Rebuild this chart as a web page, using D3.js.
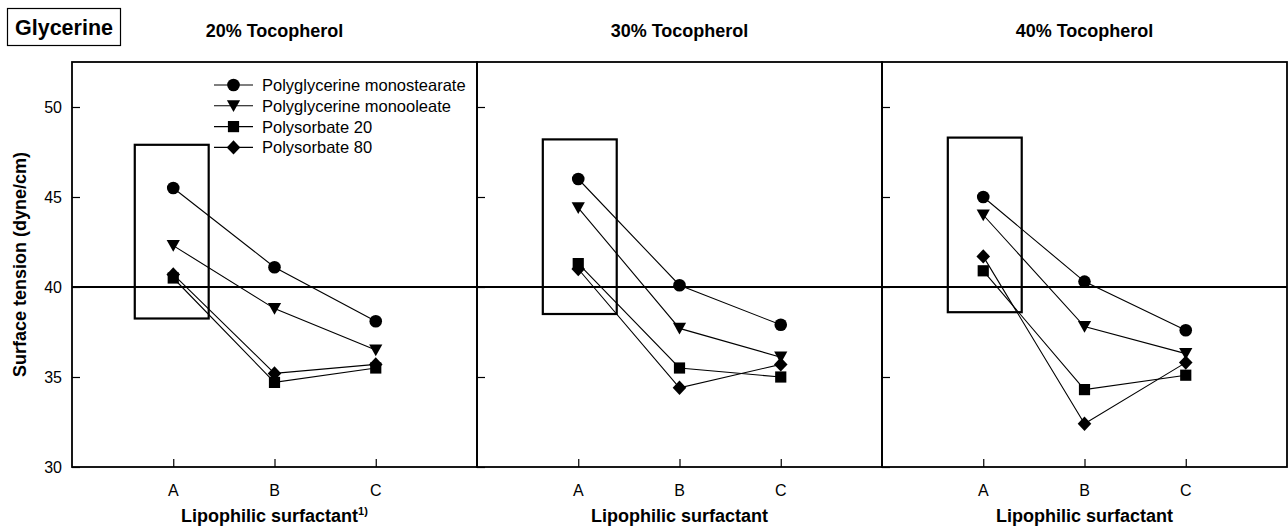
<!DOCTYPE html>
<html>
<head>
<meta charset="utf-8">
<script src="https://cdn.jsdelivr.net/npm/d3@7"></script>
<style>
  body { margin: 0; background: #fff; }
  svg { font-family: Arial, "Liberation Sans", sans-serif; }
</style>
</head>
<body>
<div id="chart"></div>
<script>
// categories on the x axis and panel titles
const categories = ["A", "B", "C"];
const panelTitles = ["20% Tocopherol", "30% Tocopherol", "40% Tocopherol"];
const seriesNames = ["Polyglycerine monostearate", "Polyglycerine monooleate", "Polysorbate 20", "Polysorbate 80"];
const seriesSymbols = ["circle", "triangle", "square", "diamond"];
const yTicks = [30, 35, 40, 45, 50];

// surface tension values, one array per panel, rows = series, cols = A,B,C
const panel20 = [
  [45.5, 41.1, 38.1],
  [42.3, 38.8, 36.5],
  [40.5, 34.7, 35.5],
  [40.7, 35.2, 35.7]
];
const panel30 = [
  [46.0, 40.1, 37.9],
  [44.4, 37.7, 36.1],
  [41.3, 35.5, 35.0],
  [41.0, 34.4, 35.7]
];
const panel40 = [
  [45.0, 40.3, 37.6],
  [44.0, 37.8, 36.3],
  [40.9, 34.3, 35.1],
  [41.7, 32.4, 35.8]
];
const panels = [panel20, panel30, panel40];

// highlight boxes around category A (x in category units, y in dyne/cm)
const boxX0 = [0.62, 0.65, 0.65];
const boxX1 = [1.35, 1.38, 1.38];
const boxY0 = [38.25, 38.5, 38.6];
const boxY1 = [47.9, 48.2, 48.3];
const refLine = 40;

const width = 1288, height = 527;
const margin = { top: 62, left: 72, bottom: 60, right: 1 };
const panelW = 405;
const plotH = height - margin.top - margin.bottom;

const svg = d3.select("#chart").append("svg")
  .attr("width", width)
  .attr("height", height);

let yScale = d3.scaleLinear()
  .domain([30, 52.5])
  .range([margin.top + plotH, margin.top]);

function xScaleFor(p) {
  let x0 = margin.left + p * panelW;
  return d3.scaleLinear().domain([0, 4]).range([x0, x0 + panelW]);
}

// marker shapes drawn to match the reference sizes
function symbolPath(kind) {
  if (kind === "circle") {
    const r = 6.3;
    return `M${-r},0A${r},${r} 0 1,0 ${r},0A${r},${r} 0 1,0 ${-r},0Z`;
  }
  if (kind === "square") {
    const s = 5.6;
    return `M${-s},${-s}H${s}V${s}H${-s}Z`;
  }
  if (kind === "diamond") {
    return "M0,-7.2L6.8,0L0,7.2L-6.8,0Z";
  }
  // triangle pointing down
  return "M-6.6,-5.6L6.6,-5.6L0,6.2Z";
}

panels.forEach(function(values, p) {
  let x = xScaleFor(p);
  let g = svg.append("g");

  // box around category A
  g.append("rect")
    .attr("x", x(boxX0[p]))
    .attr("y", yScale(boxY1[p]))
    .attr("width", x(boxX1[p]) - x(boxX0[p]))
    .attr("height", yScale(boxY0[p]) - yScale(boxY1[p]))
    .attr("fill", "none")
    .attr("stroke", "#000")
    .attr("stroke-width", 2.2);

  // left axis, ticks pointing inward
  let yAxis = g.append("g")
    .attr("transform", "translate(" + x.range()[0] + ",0)")
    .call(d3.axisRight(yScale).tickValues(yTicks).tickSize(8).tickFormat(""));
  yAxis.select(".domain").remove();
  yAxis.selectAll("line").attr("stroke-width", 1.2);

  if (p === 0) {
    g.selectAll(".ylab").data(yTicks).enter()
      .append("text")
      .attr("x", x.range()[0] - 10)
      .attr("y", d => yScale(d) + 5.8)
      .attr("text-anchor", "end")
      .style("font-size", "16px")
      .text(d => d);
  }

  // bottom axis, ticks pointing inward
  let xAxis = g.append("g")
    .attr("transform", "translate(0," + yScale(30) + ")")
    .call(d3.axisTop(x).tickValues([1, 2, 3]).tickSize(8).tickFormat(""));
  xAxis.select(".domain").remove();
  xAxis.selectAll("line").attr("stroke-width", 1.2);

  g.selectAll(".xlab").data(categories).enter()
    .append("text")
    .attr("x", (d, i) => x(i + 1))
    .attr("y", 495.5)
    .attr("text-anchor", "middle")
    .style("font-size", "16px")
    .text(d => d);

  // x title
  let xt = g.append("text")
    .attr("x", (x.range()[0] + x.range()[1]) / 2)
    .attr("y", 521.5)
    .attr("text-anchor", "middle")
    .style("font-size", "18px")
    .style("font-weight", "bold")
    .text("Lipophilic surfactant");
  if (p === 0) {
    xt.append("tspan")
      .attr("dy", -7)
      .style("font-size", "11px")
      .text("1)");
  }

  // panel title
  g.append("text")
    .attr("x", (x.range()[0] + x.range()[1]) / 2)
    .attr("y", 36.5)
    .attr("text-anchor", "middle")
    .style("font-size", "18px")
    .style("font-weight", "bold")
    .text(panelTitles[p]);

  // series lines and markers
  let line = d3.line()
    .x((d, i) => x(i + 1))
    .y(d => yScale(d));

  values.forEach(function(row, s) {
    g.append("path")
      .attr("d", line(row))
      .attr("fill", "none")
      .attr("stroke", "#000")
      .attr("stroke-width", 1.1);
  });
  values.forEach(function(row, s) {
    g.selectAll(".m" + s).data(row).enter()
      .append("path")
      .attr("transform", (d, i) => "translate(" + x(i + 1) + "," + yScale(d) + ")")
      .attr("d", symbolPath(seriesSymbols[s]))
      .attr("fill", "#000");
  });

  // panel frame
  g.append("rect")
    .attr("x", x.range()[0])
    .attr("y", margin.top)
    .attr("width", panelW)
    .attr("height", plotH)
    .attr("fill", "none")
    .attr("stroke", "#000")
    .attr("stroke-width", 1.8);
});

// reference line at 40 across all panels
svg.append("line")
  .attr("x1", margin.left)
  .attr("x2", margin.left + 3 * panelW)
  .attr("y1", yScale(refLine))
  .attr("y2", yScale(refLine))
  .attr("stroke", "#000")
  .attr("stroke-width", 2.2);

// y title
svg.append("text")
  .attr("transform", "translate(26," + (margin.top + plotH / 2) + ") rotate(-90)")
  .attr("text-anchor", "middle")
  .style("font-size", "18px")
  .style("font-weight", "bold")
  .text("Surface tension (dyne/cm)");

// "Glycerine" label in a box
svg.append("rect")
  .attr("x", 7.5).attr("y", 8.5)
  .attr("width", 113).attr("height", 37)
  .attr("fill", "none")
  .attr("stroke", "#000")
  .attr("stroke-width", 1.2);
svg.append("text")
  .attr("x", 64).attr("y", 35)
  .attr("text-anchor", "middle")
  .style("font-size", "21.5px")
  .style("font-weight", "bold")
  .text("Glycerine");

// legend inside the first panel
let legend = svg.append("g");
seriesNames.forEach(function(name, i) {
  let ly = 85 + i * 20.8;
  legend.append("line")
    .attr("x1", 214).attr("x2", 253)
    .attr("y1", ly).attr("y2", ly)
    .attr("stroke", "#000")
    .attr("stroke-width", 1.1);
  legend.append("path")
    .attr("transform", "translate(233.5," + ly + ")")
    .attr("d", symbolPath(seriesSymbols[i]))
    .attr("fill", "#000");
  legend.append("text")
    .attr("x", 262)
    .attr("y", ly + 6)
    .style("font-size", "16.5px")
    .text(name);
});
</script>
</body>
</html>
